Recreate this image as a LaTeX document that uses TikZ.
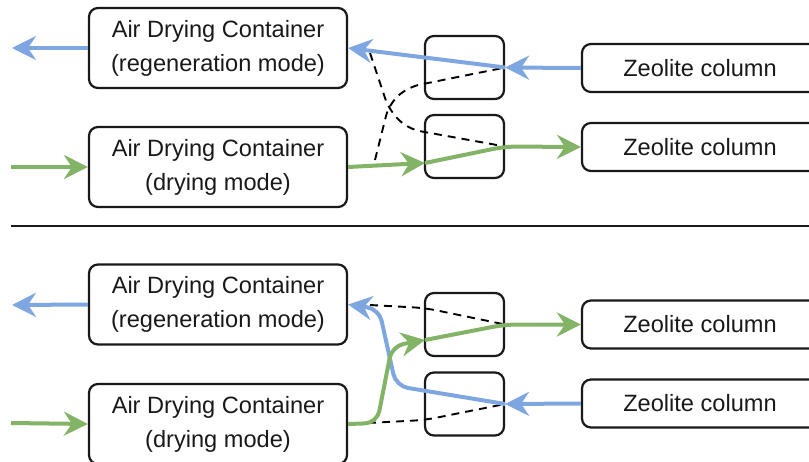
\documentclass[tikz,border=0pt]{standalone}
\usepackage{fontspec}
\setmainfont{Liberation Sans}
\usetikzlibrary{arrows.meta,calc}
\definecolor{flowblue}{HTML}{7EA6E0}
\definecolor{flowgreen}{HTML}{82B366}
\tikzset{
  box/.style={draw=black!90, line width=2.2pt, rounded corners=9pt, inner sep=0pt, align=center,
    font=\fontsize{23.6}{34}\selectfont, text=black!90},
  bigbox/.style={box, minimum width=258pt, minimum height=80pt},
  valve/.style={draw=black!90, line width=2.2pt, rounded corners=9pt, minimum width=79pt, minimum height=63pt, inner sep=0pt},
  zeo/.style={box, minimum width=236pt, minimum height=48pt},
  tip/.style={-{Stealth[length=24pt,width=24pt,inset=8pt]}},
  blueflow/.style={draw=flowblue, line width=4pt, rounded corners=12pt},
  greenflow/.style={draw=flowgreen, line width=4pt, rounded corners=12pt},
  alt/.style={draw=black, line width=1.9pt, dash pattern=on 8pt off 6pt, rounded corners=12pt},
}
\begin{document}
\begin{tikzpicture}[x=1pt,y=-1pt]
\useasboundingbox (0,0) rectangle (809,461);
\clip (0,0) rectangle (809,461);
% ---------- top ----------
\node[bigbox] (rg1) at (218,48) {Air Drying Container\\(regeneration mode)};
\node[bigbox] (dr1) at (218,167) {Air Drying Container\\(drying mode)};
\node[valve] (v1) at (464.5,67.5) {};
\node[valve] (v2) at (464.5,146.5) {};
\node[zeo] (z1) at (700,68) {Zeolite column};
\node[zeo] (z2) at (700,147) {Zeolite column};
\coordinate (o1) at (12,48);
\coordinate (i1) at (11,167);
\coordinate (g1) at (425,163);
\coordinate (a1) at (370,53);
\coordinate (b1) at (375,160);
% dashed alternatives
\draw[alt] (a1) -- (389,110) -- (408,129) -- (v2.east);
\draw[alt] (b1) -- (389,104) -- (408,87) -- (v1.east);
% flows
\draw[blueflow,tip] (rg1.west) -- (o1);
\draw[blueflow,tip] (z1.west) -- (v1.east);
\draw[blueflow,tip] (v1.east) -- (rg1.east);
\draw[greenflow,tip] (i1) -- (dr1.west);
\draw[greenflow,tip] (dr1.east) -- (g1);
\draw[greenflow,tip] (g1) -- (v2.east) -- (z2.west);
% ---------- divider ----------
\coordinate (d1) at (11,226);
\coordinate (d2) at (809,226);
\draw[black!90, line width=2pt] (d1) -- (d2);
% ---------- bottom ----------
\node[bigbox] (rg2) at (218,304.5) {Air Drying Container\\(regeneration mode)};
\node[bigbox] (dr2) at (218,424) {Air Drying Container\\(drying mode)};
\node[valve] (v3) at (464.5,324.5) {};
\node[valve] (v4) at (464.5,404) {};
\node[zeo] (z3) at (700,324.5) {Zeolite column};
\node[zeo] (z4) at (700,403.5) {Zeolite column};
\coordinate (o2) at (12,305);
\coordinate (i2) at (11,423);
\coordinate (g2) at (425,340);
\coordinate (a2) at (370,305);
\coordinate (b2) at (368,423);
\draw[alt] (a2) -- (425,308) -- (v3.east);
\draw[alt] (b2) -- (425,420) -- (v4.east);
\draw[blueflow,tip] (rg2.west) -- (o2);
\draw[blueflow,tip] (z4.west) -- (v4.east);
\draw[blueflow,tip] (v4.east) -- (396,386) -- (379,309) -- (rg2.east);
\draw[greenflow,tip] (i2) -- (dr2.west);
\draw[greenflow,tip] (dr2.east) -- (377,423) -- (392,346) -- (g2);
\draw[greenflow,tip] (g2) -- (v3.east) -- (z3.west);
\end{tikzpicture}
\end{document}
